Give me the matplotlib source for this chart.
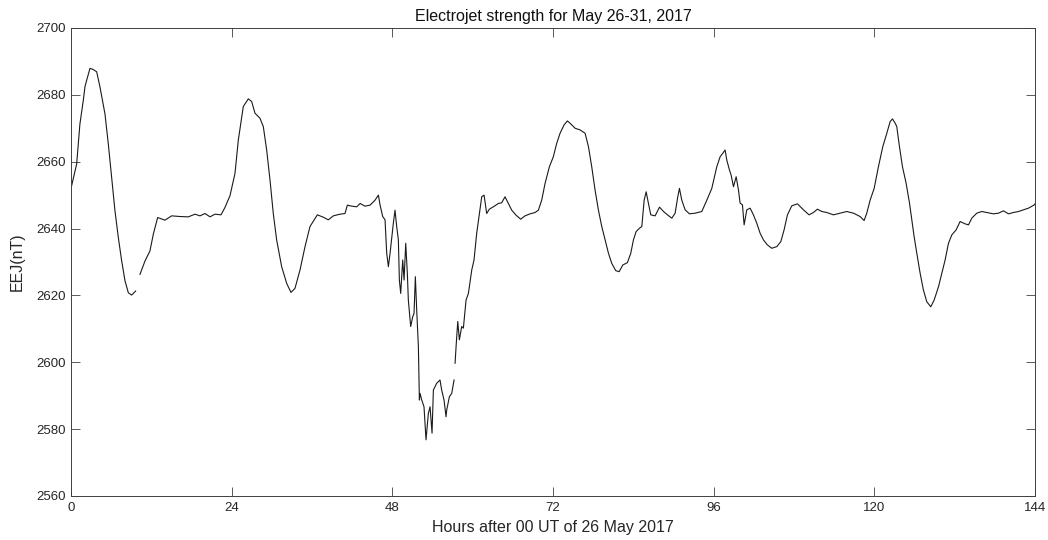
import numpy as np
import matplotlib.pyplot as plt

plt.rcParams['font.family'] = ['Liberation Sans', 'DejaVu Sans']

# EEJ samples: hours after 00 UT 26 May 2017, strength in nT (nan = missing sample)
hours = [
    0.1, 0.85, 1.34, 1.84, 2.1, 2.34, 2.84, 3.3, 3.84, 4.33, 5.08, 5.58, 6.08,
    6.57, 7.07, 7.57, 8.07, 8.57, 9.06, 9.66, 9.95, 10.31, 11.06, 11.8, 12.3,
    12.95, 14.04, 15.04, 16.28, 17.53, 18.53, 19.27, 20.02, 20.77, 21.51,
    22.41, 23.0, 23.75, 24.5, 25.0, 25.74, 26.49, 26.99, 27.49, 28.23, 28.73,
    29.23, 29.73, 30.22, 30.72, 31.47, 32.22, 32.86, 33.46, 34.21, 34.96,
    35.7, 36.8, 37.69, 38.44, 39.19, 40.18, 40.93, 41.28, 41.93, 42.68, 43.18,
    43.92, 44.67, 45.42, 45.92, 46.16, 46.56, 46.91, 47.16, 47.41, 47.66,
    48.15, 48.4, 48.65, 48.9, 49.05, 49.25, 49.55, 49.75, 50.0, 50.24, 50.39,
    50.74, 51.04, 51.24, 51.44, 51.64, 51.89, 52.04, 52.14, 52.39, 52.73,
    53.03, 53.38, 53.63, 53.93, 54.13, 54.62, 55.12, 55.37, 55.72, 56.02,
    56.12, 56.52, 56.87, 57.22, 57.3, 57.37, 57.52, 57.77, 58.01, 58.36,
    58.61, 59.01, 59.36, 59.86, 60.2, 60.6, 61.0, 61.35, 61.7, 62.09, 62.49,
    63.09, 63.84, 64.33, 64.83, 65.33, 65.83, 66.48, 67.17, 67.82, 68.57,
    69.32, 69.81, 70.31, 70.81, 71.46, 72.05, 72.55, 73.05, 73.65, 74.15,
    74.65, 75.3, 76.04, 76.79, 77.29, 77.78, 78.28, 78.78, 79.28, 79.78,
    80.28, 80.77, 81.37, 81.87, 82.42, 83.11, 83.61, 84.01, 84.41, 84.91,
    85.26, 85.61, 85.91, 86.25, 86.6, 87.25, 87.9, 88.5, 89.09, 89.74, 90.24,
    90.63, 90.88, 91.23, 91.73, 92.38, 93.22, 94.22, 94.97, 95.71, 96.46,
    96.96, 97.35, 97.7, 97.95, 98.35, 98.6, 98.95, 99.35, 99.7, 99.94, 100.29,
    100.54, 100.94, 101.44, 101.93, 102.43, 102.93, 103.43, 104.02, 104.67,
    105.42, 106.02, 106.51, 107.01, 107.66, 108.5, 109.4, 110.24, 110.89,
    111.49, 112.14, 112.88, 113.88, 114.88, 115.87, 116.87, 117.86, 118.46,
    118.86, 119.36, 119.96, 120.6, 121.25, 121.85, 122.35, 122.7, 123.1,
    123.34, 123.74, 124.19, 124.74, 125.24, 125.59, 125.93, 126.33,
    126.83, 127.32, 127.82, 128.42, 128.92, 129.57, 130.06, 130.56,
    131.06, 131.56, 132.2, 132.8, 133.55, 134.05, 134.54, 135.29, 136.04,
    136.78, 137.78, 138.53, 139.27, 140.02, 140.77, 141.51, 142.26, 143.01,
    143.9, 144.0,
]
eej = [
    2652.8, 2659.3, 2671.3, 2678.3, 2682.5, 2684.3, 2687.9, 2687.6, 2686.9,
    2682.4, 2674.3, 2665.3, 2655.3, 2645.4, 2637.4, 2630.4, 2624.4, 2620.8,
    2620.1, 2621.3, np.nan, 2626.3, 2630.3, 2633.3, 2638.3, 2643.3, 2642.5,
    2643.8, 2643.6, 2643.5, 2644.3, 2643.8, 2644.5, 2643.5, 2644.3, 2644.1,
    2646.3, 2649.8, 2656.5, 2666.5, 2676.5, 2678.8, 2678.0, 2674.5, 2673.0,
    2670.5, 2663.5, 2654.5, 2644.5, 2636.6, 2628.6, 2623.6, 2620.9, 2622.1,
    2627.6, 2634.6, 2640.6, 2644.1, 2643.4, 2642.6, 2643.8, 2644.3, 2644.5,
    2647.0, 2646.7, 2646.5, 2647.5, 2646.7, 2647.0, 2648.5, 2650.0, 2647.1,
    2643.6, 2642.6, 2632.6, 2628.6, 2632.6, 2641.6, 2645.5, 2640.6, 2636.6,
    2624.6, 2620.6, 2630.6, 2624.6, 2635.6, 2626.6, 2618.6, 2610.7, 2613.6,
    2614.6, 2625.6, 2615.6, 2604.7, 2588.7, 2590.7, 2588.7, 2586.7, 2576.8,
    2584.7, 2586.7, 2578.8, 2591.7, 2593.7, 2594.7, 2591.7, 2588.7, 2583.7,
    2585.7, 2589.7, 2590.7, 2594.7, np.nan, 2599.7, 2604.7, 2612.2, 2606.7,
    2610.7, 2610.2, 2618.6, 2620.6, 2627.6, 2630.6, 2638.6, 2644.5, 2649.5,
    2650.0, 2644.5, 2645.8, 2646.5, 2647.5, 2647.7, 2649.5, 2647.5, 2645.5,
    2644.0, 2642.8, 2643.8, 2644.4, 2644.8, 2645.5, 2648.5, 2653.5, 2658.5,
    2661.5, 2665.5, 2668.5, 2671.0, 2672.2, 2671.3, 2670.0, 2669.5, 2668.5,
    2664.5, 2658.5, 2651.5, 2645.5, 2640.6, 2636.6, 2632.6, 2629.6,
    2627.4, 2627.1, 2629.1, 2629.8, 2632.6, 2636.6, 2639.1, 2640.1, 2640.6,
    2648.5, 2651.0, 2647.5, 2644.1, 2643.8, 2646.4, 2645.1, 2644.1, 2643.1,
    2644.6, 2649.5, 2652.0, 2648.5, 2645.6, 2644.4, 2644.6, 2645.1, 2648.5,
    2652.0, 2658.5, 2661.5, 2662.5, 2663.5, 2660.5, 2657.5, 2656.0, 2652.5,
    2655.5, 2651.5, 2647.6, 2647.1, 2641.1, 2645.6, 2646.1, 2644.1, 2641.6,
    2638.6, 2636.6, 2635.1, 2634.1, 2634.6, 2636.1, 2639.6, 2644.1, 2646.8,
    2647.4, 2645.6, 2644.1, 2644.8, 2645.8, 2645.1, 2644.8, 2644.1, 2644.6,
    2645.1, 2644.6, 2643.6, 2642.4, 2644.6, 2648.5, 2652.0, 2658.5, 2664.5,
    2668.5, 2672.0, 2672.8, 2671.5, 2670.5, 2664.5, 2658.5, 2653.5,
    2647.6, 2642.6, 2637.6, 2632.6, 2626.6, 2621.6, 2618.1, 2616.6,
    2618.6, 2622.6, 2626.6, 2630.6, 2635.6, 2638.1, 2639.6, 2642.1, 2641.4,
    2641.1, 2643.1, 2644.6, 2645.1, 2644.8, 2644.4, 2644.6, 2645.3, 2644.4,
    2644.8, 2645.1, 2645.6, 2646.1, 2647.1, 2647.4,
]

xticks = [0, 24, 48, 72, 96, 120, 144]
yticks = [2560, 2580, 2600, 2620, 2640, 2660, 2680, 2700]

fig = plt.figure(figsize=(10.48, 5.4), dpi=100)
ax = fig.add_axes([0.0677, 0.0815, 0.92, 0.8667])

ax.plot(hours, eej, color='#1a1a1a', linewidth=0.8)

ax.set_xlim(0, 144)
ax.set_ylim(2560, 2700)
ax.set_xticks(xticks)
ax.set_yticks(yticks)

# matlab-ish box: inward ticks on every side, labels only left/bottom
ax.tick_params(direction='in', length=6.5, width=0.6, color='#404040',
               labelsize=9.5, labelcolor='#262626', top=True, right=True, pad=4)
for sp in ax.spines.values():
    sp.set_color('#404040')
    sp.set_linewidth(0.7)

ax.set_title('Electrojet strength for May 26-31, 2017', fontsize=11.5,
             color='#111111', pad=5)
ax.set_xlabel('Hours after 00 UT of 26 May 2017', fontsize=11.5,
              color='#262626', labelpad=5)
ax.set_ylabel('EEJ(nT)', fontsize=11.5, color='#262626', labelpad=8)

fig.savefig('out.png', dpi=100)
